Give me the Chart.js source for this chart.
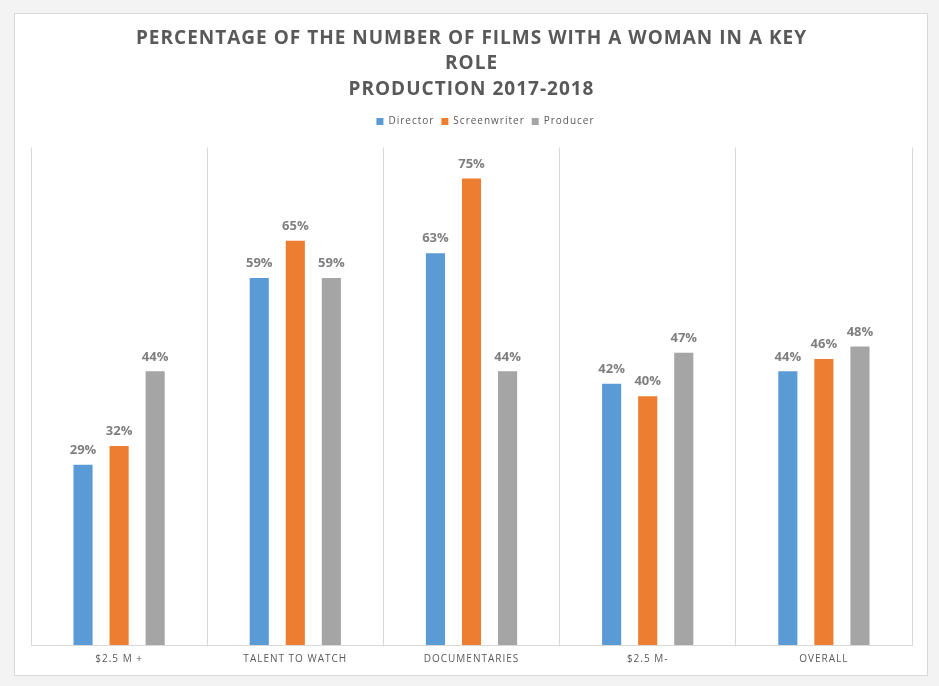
<!DOCTYPE html>
<html>
<head>
<meta charset="utf-8">
<script src="https://cdn.jsdelivr.net/npm/chart.js@4.4.1/dist/chart.umd.min.js"></script>
<style>
    body { margin: 0; background: #f3f3f3; }
    #box {
        position: absolute; left: 14px; top: 13px;
        width: 912px; height: 661px;
        background: #fff; border: 1px solid #d9d9d9;
    }
</style>
</head>
<body>
<div id="box"><canvas id="filmChart"></canvas></div>
<script>
// Chart data
const categories = ['$2.5 M +', 'TALENT TO WATCH', 'DOCUMENTARIES', '$2.5 M-', 'OVERALL'];
const director = [29, 59, 63, 42, 44];
const screenwriter = [32, 65, 75, 40, 46];
const producer = [44, 59, 44, 47, 48];

const titleLines = [
    'PERCENTAGE OF THE NUMBER OF FILMS WITH A WOMAN IN A KEY',
    'ROLE',
    'PRODUCTION 2017-2018'
];

// Little letter spacing like the original office chart
const spacingPlugin = {
    id: 'spacing',
    beforeDraw(chart) {
        chart.ctx.letterSpacing = '1px';
    }
};

// Extra room between legend and plot
const legendGap = {
    id: 'legendGap',
    beforeInit(chart) {
        const fit = chart.legend.fit;
        chart.legend.fit = function () {
            fit.bind(chart.legend)();
            this.height += 11;
        };
    }
};

// Percent labels above each bar
const valueLabels = {
    id: 'valueLabels',
    afterDatasetsDraw(chart) {
        const ctx = chart.ctx;
        ctx.save();
        ctx.letterSpacing = '0px';
        ctx.font = 'bold 13px "Open Sans"';
        ctx.fillStyle = '#7f7f7f';
        ctx.textAlign = 'center';
        ctx.textBaseline = 'bottom';
        chart.data.datasets.forEach((ds, i) => {
            chart.getDatasetMeta(i).data.forEach((bar, j) => {
                ctx.fillText(ds.data[j] + '%', bar.x, bar.y - 8);
            });
        });
        ctx.restore();
    }
};

const box = document.getElementById('box');
const canvas = document.getElementById('filmChart');
canvas.width = box.clientWidth;
canvas.height = box.clientHeight;

new Chart(canvas, {
    type: 'bar',
    data: {
        labels: categories,
        datasets: [
            { label: 'Director', data: director, backgroundColor: '#5b9bd5' },
            { label: 'Screenwriter', data: screenwriter, backgroundColor: '#ed7d31' },
            { label: 'Producer', data: producer, backgroundColor: '#a5a5a5' }
        ]
    },
    options: {
        responsive: false,
        animation: false,
        categoryPercentage: 0.614,
        barPercentage: 0.53,
        layout: {
            padding: { left: 16, right: 15, top: 0, bottom: 2 }
        },
        scales: {
            x: {
                grid: { display: true, color: '#d9d9d9', drawTicks: false, offset: true },
                border: { display: true, color: '#d9d9d9' },
                ticks: {
                    color: '#595959',
                    font: { family: 'Open Sans', size: 10 },
                    padding: 8,
                    maxRotation: 0
                }
            },
            y: {
                display: false,
                min: 0,
                max: 80
            }
        },
        plugins: {
            title: {
                display: true,
                text: titleLines,
                color: '#595959',
                font: { family: 'Open Sans', size: 19, weight: 'bold', lineHeight: 1.35 },
                padding: { top: 11.5, bottom: 7 }
            },
            legend: {
                display: true,
                position: 'top',
                labels: {
                    boxWidth: 7,
                    boxHeight: 7,
                    color: '#595959',
                    font: { family: 'Open Sans', size: 10 },
                    padding: 7
                }
            },
            tooltip: { enabled: false }
        }
    },
    plugins: [spacingPlugin, legendGap, valueLabels]
});
</script>
</body>
</html>
